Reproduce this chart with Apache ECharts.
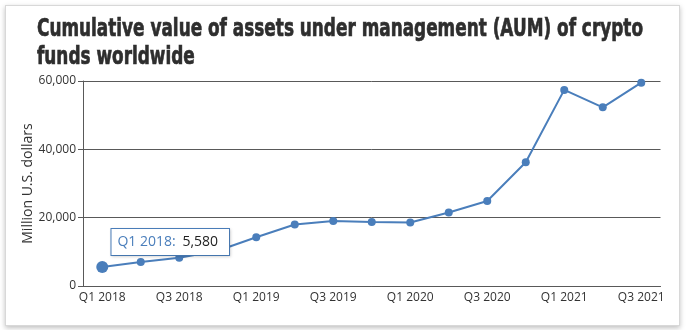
<!DOCTYPE html>
<html>
<head>
<meta charset="utf-8">
<script src="https://cdn.jsdelivr.net/npm/echarts@6/dist/echarts.min.js"></script>
<style>
  html, body { margin: 0; padding: 0; background: #fff; }
  #card {
    position: absolute; left: 5px; top: 5px; width: 673px; height: 319px;
    border: 1px solid #d8d8d8; background: #fff;
    box-shadow: 0 2px 5px rgba(0,0,0,0.25);
  }
  #chart { position: absolute; left: 0; top: 0; width: 687px; height: 330px; }
</style>
</head>
<body>
<div id="card"></div>
<div id="chart"></div>
<script>
// Quarterly AUM of crypto funds, million U.S. dollars
const quarters = ['Q1 2018','Q2 2018','Q3 2018','Q4 2018','Q1 2019','Q2 2019','Q3 2019','Q4 2019',
                  'Q1 2020','Q2 2020','Q3 2020','Q4 2020','Q1 2021','Q2 2021','Q3 2021'];
const aum = [5580, 7000, 8300, 10300, 14250, 18000, 19000, 18700, 18600, 21500, 24900, 36200, 57400, 52300, 59500];
const yTicks = { min: 0, max: 60000, interval: 20000 };
const titleLines = ['Cumulative value of assets under management (AUM) of crypto', 'funds worldwide'];

const lineBlue = '#4a7ebb';
const axisGray = '#595959';
const textFont = '"Open Sans", "Noto Sans", sans-serif';

// Condensed heavy headline: bold sans squeezed horizontally to fit its box
const titleFont = 'bold 24px "DejaVu Sans", sans-serif';
const titleWidth = 606;
const ctx = document.createElement('canvas').getContext('2d');
ctx.font = titleFont;
const titleScale = titleWidth / ctx.measureText(titleLines[0]).width;

const chart = echarts.init(document.getElementById('chart'), null, { renderer: 'canvas' });

const seriesData = aum.map((v, i) => {
  if (i !== 0) return v;
  return {
    value: v,
    symbolSize: 12,
    label: {
      show: true,
      position: 'top',
      offset: [68, -1],
      formatter: p => '{k|' + p.name + ':}  {v|' + p.value.toLocaleString('en-US') + '}',
      backgroundColor: '#fff',
      borderColor: lineBlue,
      borderWidth: 1,
      padding: [5, 11, 5, 6],
      shadowColor: 'rgba(0,0,0,0.15)',
      shadowBlur: 3,
      shadowOffsetX: 1,
      shadowOffsetY: 1,
      rich: {
        k: { color: lineBlue, fontSize: 14, fontFamily: textFont, lineHeight: 16 },
        v: { color: '#222', fontSize: 14, fontFamily: textFont, lineHeight: 16 }
      }
    }
  };
});

chart.setOption({
  animation: false,
  graphic: titleLines.map((t, i) => ({
    type: 'text',
    x: 37,
    y: 18 + i * 28,
    scaleX: titleScale,
    originX: 0,
    style: {
      text: t, font: titleFont, fill: '#2e2e2e', verticalAlign: 'top',
      stroke: '#2e2e2e', lineWidth: 0.7
    }
  })),
  grid: { left: 83, right: 26.5, top: 81, bottom: 44 },
  xAxis: {
    type: 'category',
    data: quarters,
    boundaryGap: true,
    axisLine: { lineStyle: { color: axisGray, width: 1 } },
    axisTick: { alignWithLabel: true, interval: 1, length: 5, lineStyle: { color: axisGray } },
    axisLabel: { interval: 1, color: '#333', fontSize: 12, fontFamily: textFont, margin: 6 }
  },
  yAxis: {
    type: 'value',
    min: yTicks.min, max: yTicks.max, interval: yTicks.interval,
    name: 'Million U.S. dollars',
    nameLocation: 'middle',
    nameGap: 48,
    nameMoveOverlap: false,
    nameTextStyle: { color: '#333', fontSize: 14, fontFamily: textFont },
    axisLine: { show: true, lineStyle: { color: axisGray } },
    axisTick: { show: true, length: 5, lineStyle: { color: axisGray } },
    splitLine: { lineStyle: { color: axisGray, width: 1 } },
    axisLabel: {
      color: '#333', fontSize: 12, fontFamily: textFont, margin: 7,
      formatter: v => v.toLocaleString('en-US')
    }
  },
  series: [{
    type: 'line',
    data: seriesData,
    symbol: 'circle',
    symbolSize: 8,
    itemStyle: { color: lineBlue },
    lineStyle: { color: lineBlue, width: 2 },
    z: 3
  }]
});
</script>
</body>
</html>
